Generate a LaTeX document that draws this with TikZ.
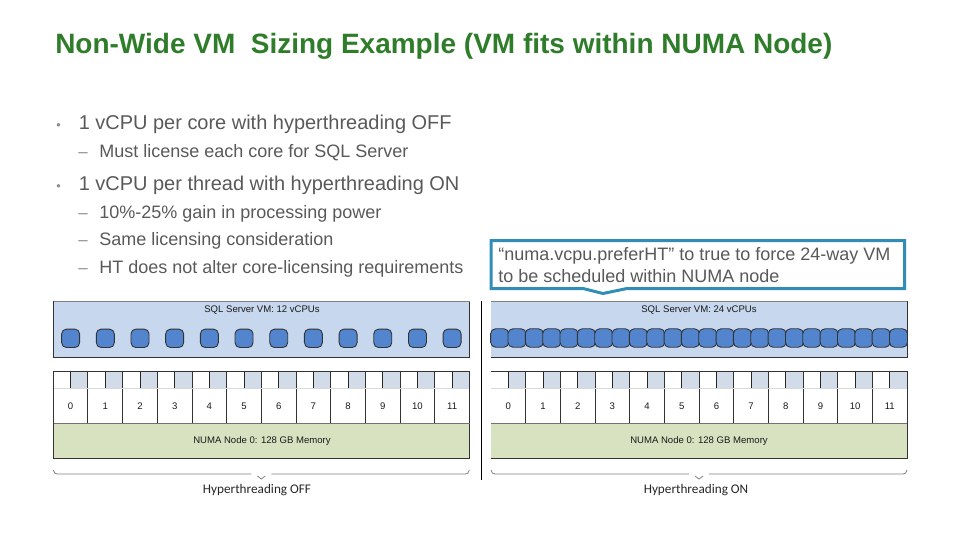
\documentclass[tikz,border=0pt]{standalone}
\usepackage{fontspec}
\setmainfont{Liberation Sans}
\newfontfamily\captionfont{Carlito}
\definecolor{titlegreen}{HTML}{2F7D2B}
\definecolor{bodygray}{HTML}{595959}
\definecolor{vmblue}{HTML}{C6D7EE}
\definecolor{chipblue}{HTML}{5285CE}
\definecolor{threadblue}{HTML}{D2DBE8}
\definecolor{numagreen}{HTML}{D8E2C1}
\definecolor{calloutblue}{HTML}{2F8DB8}
\tikzset{
	textline/.style={anchor=base west, inner sep=0, text=bodygray},
	bigline/.style={textline, font=\fontsize{14.2}{16}\selectfont},
	subline/.style={textline, font=\fontsize{12.8}{15}\selectfont},
	dashline/.style={textline, text=black!45, font=\fontsize{12}{14}\selectfont},
	bulletline/.style={textline, text=black!45, font=\fontsize{9}{10}\selectfont},
	tinylabel/.style={inner sep=0, text=black!90, font=\fontsize{6.8}{8}\selectfont},
	vcpu/.style={draw=black!80, fill=chipblue, line width=0.22mm, rounded corners=1.2mm, inner sep=0, minimum width=4.5mm, minimum height=4.6mm},
	panelline/.style={line width=0.25mm, draw=black!80},
	bracket/.style={line width=0.2mm, draw=black!50},
	caption/.style={inner sep=0, text=black!85, font=\captionfont\fontsize{9.4}{11}\selectfont}
}
\begin{document}
\begin{tikzpicture}[x=0.025cm, y=-0.025cm]
			%%%%% START %%%%%
			\useasboundingbox (0, 0) rectangle (960, 540);
			
			\node[anchor=base west, inner sep=0, text=titlegreen, font=\bfseries\fontsize{19.9}{24}\selectfont] (title) at (55, 53) {Non-Wide VM\ \ Sizing Example (VM fits within NUMA Node)};
			
			\node[bulletline] (bulletA) at (56, 129) {•};
			\node[bigline] (lineA) at (78.5, 129) {1 vCPU per core with hyperthreading OFF};
			\node[dashline] (dashA) at (78, 157) {–};
			\node[subline] (lineAa) at (99, 157) {Must license each core for SQL Server};
			\node[bulletline] (bulletB) at (56, 190) {•};
			\node[bigline] (lineB) at (78.5, 190) {1 vCPU per thread with hyperthreading ON};
			\node[dashline] (dashB) at (78, 218) {–};
			\node[subline] (lineBa) at (99, 218) {10\%-25\% gain in processing power};
			\node[dashline] (dashC) at (78, 245) {–};
			\node[subline] (lineBb) at (99, 245) {Same licensing consideration};
			\node[dashline] (dashD) at (78, 273) {–};
			\node[subline] (lineBc) at (99, 273) {HT does not alter core-licensing requirements};
			
			% callout
			\draw[line width=0.75mm, draw=calloutblue, fill=white] (491, 240.5) -- (904.5, 240.5) -- (904.5, 288.5) -- (627, 288.5) -- (603, 293.5) -- (583, 288.5) -- (491, 288.5) -- cycle;
			\node[subline] (calloutA) at (498, 260) {“numa.vcpu.preferHT” to true to force 24-way VM};
			\node[subline] (calloutB) at (498, 282) {to be scheduled within NUMA node};
			
			% panels
			\foreach \xo/\pn in {53.3/L, 491/R} {
				\fill[vmblue] (\xo, 301) rectangle (\xo+416.2, 357.5);
				\fill[numagreen] (\xo, 423.5) rectangle (\xo+416.2, 458.5);
				\foreach \i in {0,...,11} {
					\fill[threadblue] (\xo+34.68*\i+17.34, 371.5) rectangle (\xo+34.68*\i+34.68, 388.7);
					\draw[panelline, line width=0.2mm, draw=black!85] (\xo+34.68*\i+17.34, 371.5) -- (\xo+34.68*\i+17.34, 388.7);
					\draw[panelline] (\xo+34.68*\i+34.68, 371.5) -- (\xo+34.68*\i+34.68, 423.5);
					\node[tinylabel] (core\pn\i) at (\xo+34.68*\i+17.34, 406) {\i};
				}
				\draw[line width=0.15mm, draw=black!15] (\xo, 388.7) -- (\xo+416.2, 388.7);
				\draw[panelline] (\xo, 357.5) -- (\xo+416.2, 357.5) -- (\xo+416.2, 301);
				\draw[panelline, draw=black!50] (\xo, 301) -- (\xo+416.2, 301);
				\draw[panelline] (\xo, 371.5) -- (\xo+416.2, 371.5) -- (\xo+416.2, 458.5) -- (\xo, 458.5);
				\draw[panelline, line width=0.35mm, draw=black!55] (\xo, 423.5) -- (\xo+416.2, 423.5);
				\draw[bracket] (\xo, 470) .. controls (\xo+0.5, 473) and (\xo+2, 474) .. (\xo+4, 474) -- (\xo+198, 474);
				\draw[bracket] (\xo+218, 474) -- (\xo+412, 474) .. controls (\xo+414, 474) and (\xo+415.5, 473) .. (\xo+416, 470);
				\draw[bracket] (\xo+204, 476) -- (\xo+208, 479) -- (\xo+212, 476);
			}
			% only the left panel is closed on its left side
			\draw[panelline] (53.3, 301) -- (53.3, 357.5);
			\draw[panelline] (53.3, 371.5) -- (53.3, 458.5);
			\draw[line width=0.25mm, draw=black] (481, 301) -- (481, 480);
			
			\foreach \i in {0,...,11}
				\node[vcpu] (chipL\i) at (53.3+34.68*\i+17.34, 338.3) {};
			\foreach \i in {0,...,23}
				\node[vcpu] (chipR\i) at (491+17.34*\i+8.67, 338) {};
			
			\node[tinylabel] (vmL) at (262, 310) {SQL Server VM: 12 vCPUs};
			\node[tinylabel] (vmR) at (699, 310) {SQL Server VM: 24 vCPUs};
			\node[tinylabel] (numaL) at (262, 441) {NUMA Node 0: 128 GB Memory};
			\node[tinylabel] (numaR) at (699, 441) {NUMA Node 0: 128 GB Memory};
			\node[caption] (htOff) at (257, 490) {Hyperthreading OFF};
			\node[caption] (htOn) at (696, 490) {Hyperthreading ON};
			%%%%% END %%%%%
		\end{tikzpicture}
\end{document}
